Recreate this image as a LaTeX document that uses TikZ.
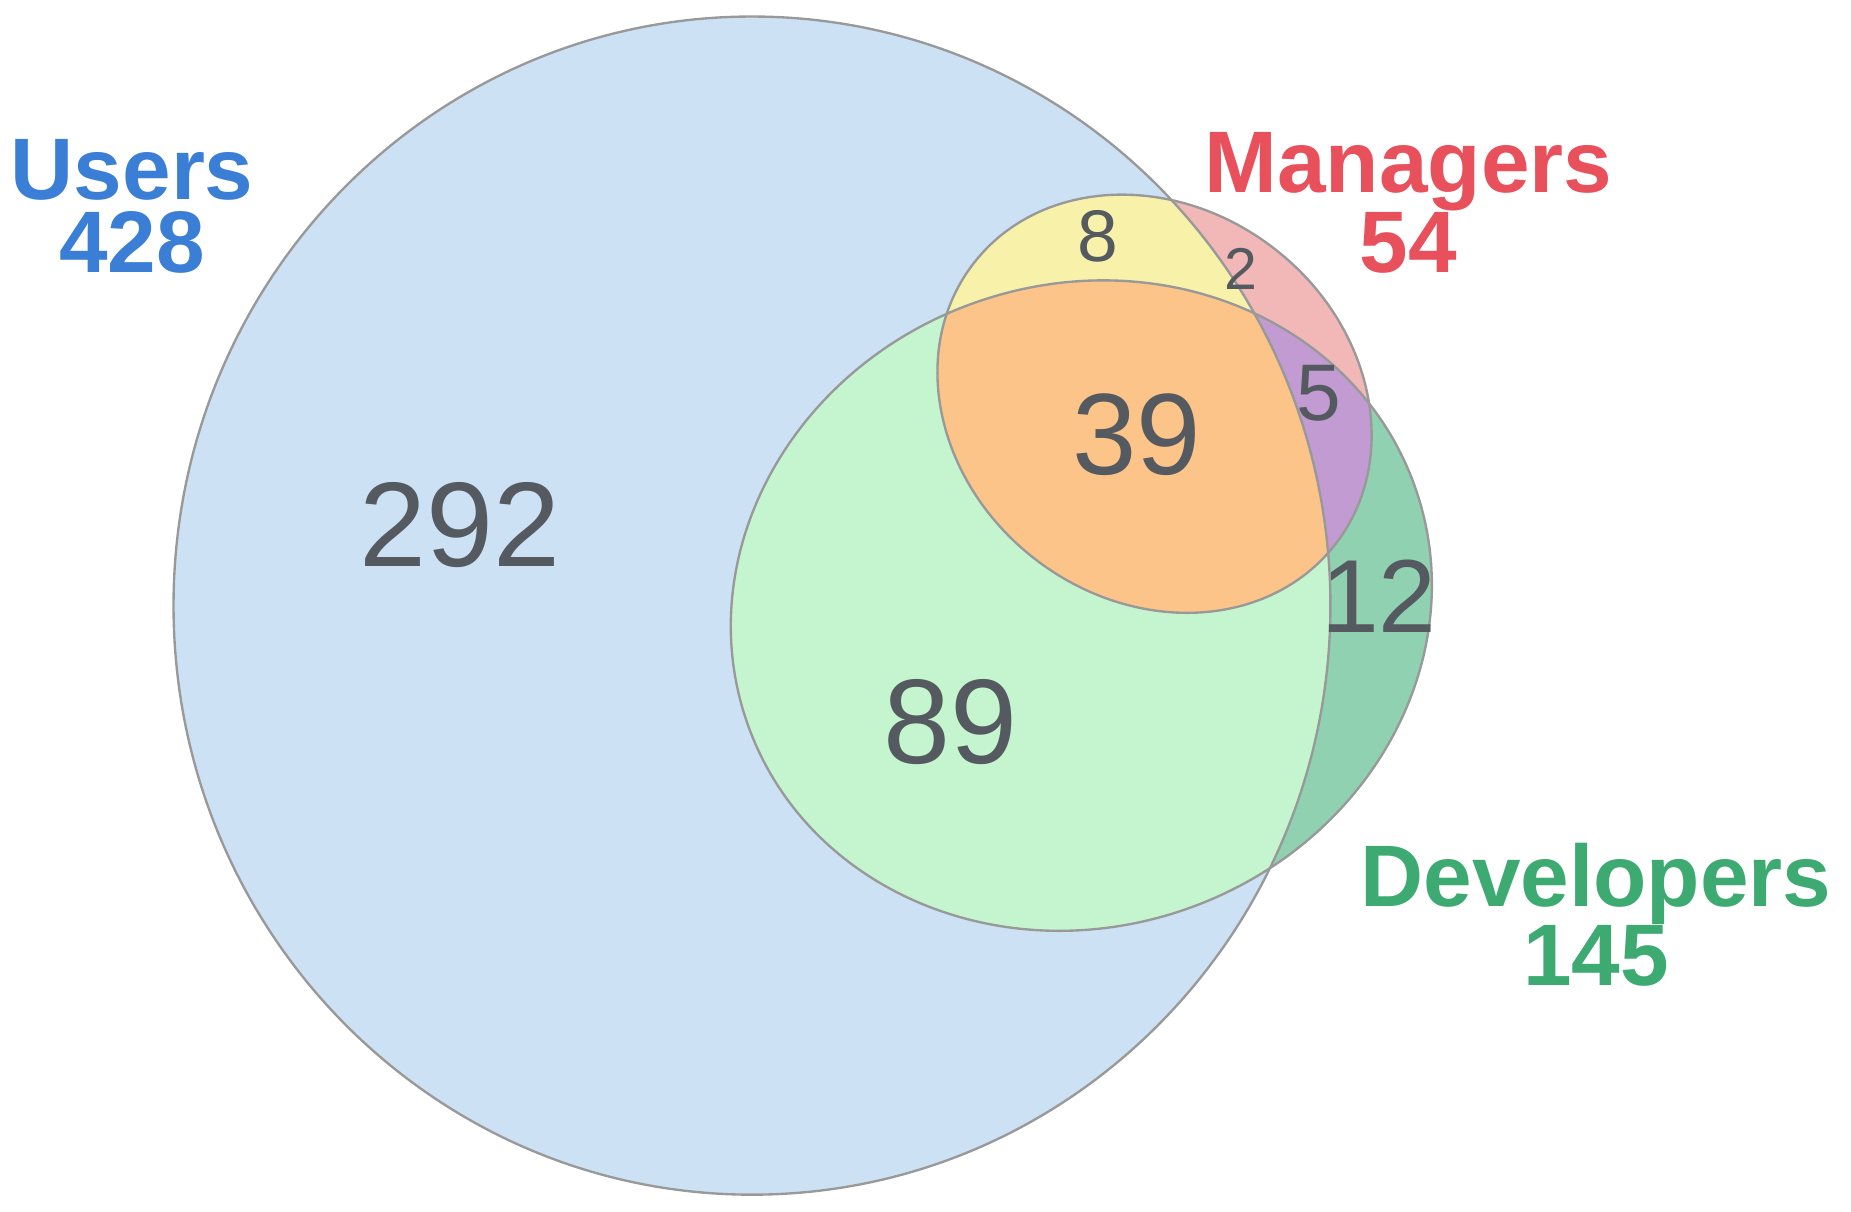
\documentclass[tikz,border=0pt]{standalone}
\usepackage{fontspec}
\setmainfont{Liberation Sans}
\definecolor{numc}{HTML}{555A60}
\definecolor{ublue}{HTML}{3A7FD5}
\definecolor{mred}{HTML}{E8505B}
\definecolor{dgreen}{HTML}{3DAA72}
\definecolor{cusers}{RGB}{205,225,245}
\definecolor{cdev}{RGB}{143,209,176}
\definecolor{cud}{RGB}{197,245,207}
\definecolor{cman}{RGB}{242,184,184}
\definecolor{cum}{RGB}{248,241,169}
\definecolor{cdm}{RGB}{195,155,211}
\definecolor{call}{RGB}{252,196,136}
\begin{document}
\begin{tikzpicture}[x=1pt,y=-1pt,
  num/.style={text=numc,font=\fontsize{#1}{#1}\selectfont},
  lab/.style={font=\bfseries\fontsize{74}{62}\selectfont,align=center}]
\useasboundingbox (0,0) rectangle (1568,1026);
\def\usersP{(637,513) ellipse [x radius=490,y radius=499]}
\def\devP{[rotate around={20:(916,513)}] (916,513) ellipse [x radius=300,y radius=272]}
\def\manP{[rotate around={-38:(978,342)}] (978,342) ellipse [x radius=194,y radius=166]}
\fill[cusers] \usersP;
\fill[cdev] \devP;
\begin{scope}\clip \usersP; \fill[cud] \devP; \end{scope}
\fill[cman] \manP;
\begin{scope}\clip \usersP; \fill[cum] \manP; \end{scope}
\begin{scope}\clip \devP; \fill[cdm] \manP; \end{scope}
\begin{scope}\clip \devP; \clip \usersP; \fill[call] \manP; \end{scope}
\draw[gray!80,line width=2pt] \usersP;
\draw[gray!80,line width=2pt] \devP;
\draw[gray!80,line width=2pt] \manP;
\node[num=102] (n292) at (390,445) {292};
\node[num=102] (n89) at (805,612) {89};
\node[num=98] (n39) at (963,368) {39};
\node[num=88] (n12) at (1168,505) {12};
\node[num=62] (n8) at (930,200) {8};
\node[num=68] (n5) at (1117,333) {5};
\node[num=50] (n2) at (1051,228) {2};
\node[lab,text=ublue] (u) at (112,175) {Users\\428};
\node[lab,text=mred] (m) at (1193,172) {Managers\\54};
\node[lab,text=dgreen] (d) at (1352,775) {Developers\\145};
\end{tikzpicture}
\end{document}
